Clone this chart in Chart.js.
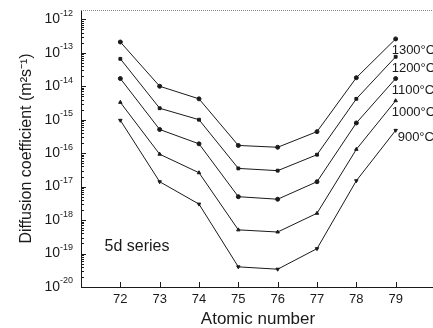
<!DOCTYPE html>
<html>
<head>
<meta charset="utf-8">
<script src="https://cdn.jsdelivr.net/npm/chart.js@4"></script>
<style>
  html, body { margin: 0; padding: 0; background: #fff; overflow: hidden; }
  #wrap { width: 433px; height: 328px; overflow: hidden; }
  canvas { display: block; }
</style>
</head>
<body>
<div id="wrap"><canvas id="chart-diffusion" style="width:440px;height:328px"></canvas></div>
<script>
// Atomic numbers of the 5d series (Hf .. Au)
const atomicNumbers = [72, 73, 74, 75, 76, 77, 78, 79];

// Diffusion coefficients (m^2 s^-1)
const d1300 = [2.1e-13, 1.0e-14, 4.2e-15, 1.7e-16, 1.5e-16, 4.4e-16, 1.8e-14, 2.6e-13];
const d1200 = [6.6e-14, 2.2e-15, 1.0e-15, 3.5e-17, 3.0e-17, 9.0e-17, 4.2e-15, 7.6e-14];
const d1100 = [1.7e-14, 5.1e-16, 1.9e-16, 5.0e-18, 4.2e-18, 1.4e-17, 8.0e-16, 1.7e-14];
const d1000 = [3.3e-15, 9.3e-17, 2.6e-17, 5.1e-19, 4.4e-19, 1.6e-18, 1.3e-16, 3.7e-15];
const d900  = [9.6e-16, 1.4e-17, 3.0e-18, 4.0e-20, 3.4e-20, 1.4e-19, 1.5e-17, 4.8e-16];

const seriesLabels = ['1300°C', '1200°C', '1100°C', '1000°C', '900°C'];
const seriesValues = [d1300, d1200, d1100, d1000, d900];

// Decade exponents used for the y tick labels
const yExponents = [-20, -19, -18, -17, -16, -15, -14, -13, -12];

const FONT = 'Arial, "Liberation Sans", sans-serif';
const INK = '#1a1a1a';

const markerStyles = [
  { pointStyle: 'circle', rotation: 0 },
  { pointStyle: 'rect', rotation: 0 },
  { pointStyle: 'circle', rotation: 0 },
  { pointStyle: 'triangle', rotation: 0 },
  { pointStyle: 'triangle', rotation: 180 }
];

// Inward tick marks, 10^n labels, dotted top frame, series labels, note
const decorPlugin = {
  id: 'decor',
  afterDatasetsDraw(chart) {
    const ctx = chart.ctx;
    const area = chart.chartArea;
    const xs = chart.scales.x;
    const ys = chart.scales.y;
    ctx.save();
    ctx.strokeStyle = INK;
    ctx.lineWidth = 1;

    // y ticks (major + minor), drawn inside the plot
    ys.ticks.forEach(t => {
      const py = Math.round(ys.getPixelForValue(t.value)) + 0.5;
      const len = t.major ? 5 : 3;
      ctx.beginPath();
      ctx.moveTo(area.left, py);
      ctx.lineTo(area.left + len, py);
      ctx.stroke();
    });
    // x ticks, inside
    atomicNumbers.forEach(n => {
      const px = Math.round(xs.getPixelForValue(n)) + 0.5;
      ctx.beginPath();
      ctx.moveTo(px, area.bottom);
      ctx.lineTo(px, area.bottom - 5);
      ctx.stroke();
    });

    // y tick labels as 10 with a raised exponent
    ctx.fillStyle = INK;
    ctx.textBaseline = 'middle';
    ctx.textAlign = 'right';
    yExponents.forEach(e => {
      const py = ys.getPixelForValue(Math.pow(10, e));
      const right = area.left - 8;
      ctx.font = '9px ' + FONT;
      const sup = String(e);
      const w = ctx.measureText(sup).width;
      ctx.fillText(sup, right, py - 6);
      ctx.font = '14px ' + FONT;
      ctx.fillText('10', right - w, py);
    });

    // dotted top frame
    ctx.strokeStyle = '#8a8a8a';
    ctx.setLineDash([1, 1]);
    ctx.beginPath();
    ctx.moveTo(area.left, area.top + 0.5);
    ctx.lineTo(area.right, area.top + 0.5);
    ctx.stroke();
    ctx.setLineDash([]);

    // temperature labels next to the last point of each series
    ctx.font = '13px ' + FONT;
    ctx.textAlign = 'left';
    chart.data.datasets.forEach((ds, i) => {
      const meta = chart.getDatasetMeta(i);
      const pt = meta.data[meta.data.length - 1];
      const dx = i === 4 ? 2 : -4;
      const dy = i === 4 ? 7 : 12;
      ctx.fillText(ds.label, pt.x + dx, pt.y + dy);
    });

    ctx.font = '16px ' + FONT;
    ctx.fillText('5d series', xs.getPixelForValue(71.6), ys.getPixelForValue(1.6e-19));
    ctx.restore();
  }
};

new Chart(document.getElementById('chart-diffusion'), {
  type: 'line',
  data: {
    datasets: seriesValues.map((vals, i) => ({
      label: seriesLabels[i],
      data: atomicNumbers.map((n, k) => ({ x: n, y: vals[k] })),
      borderColor: INK,
      backgroundColor: INK,
      borderWidth: 1,
      pointRadius: 2,
      pointStyle: markerStyles[i].pointStyle,
      rotation: markerStyles[i].rotation,
      tension: 0
    }))
  },
  options: {
    responsive: false,
    animation: false,
    devicePixelRatio: 1,
    layout: { padding: { top: 10, right: 4, left: 0, bottom: 0 } },
    plugins: {
      legend: { display: false },
      tooltip: { enabled: false }
    },
    scales: {
      x: {
        type: 'linear',
        min: 71,
        max: 80,
        afterBuildTicks: scale => {
          scale.ticks = atomicNumbers.map(n => ({ value: n }));
        },
        afterFit: scale => { scale.height = 41; },
        grid: { display: false, drawTicks: false },
        border: { display: true, color: INK, width: 1 },
        ticks: {
          padding: 5,
          color: INK,
          font: { family: FONT, size: 13 },
          callback: v => String(v)
        },
        title: {
          display: true,
          text: 'Atomic number',
          color: INK,
          font: { family: FONT, size: 17, lineHeight: 1 },
          padding: { top: 0, bottom: 0 }
        }
      },
      y: {
        type: 'logarithmic',
        min: 1e-20,
        max: 1.9e-12,
        afterBuildTicks: scale => {
          const ticks = [];
          yExponents.forEach(e => {
            ticks.push({ value: Math.pow(10, e), major: true });
            for (let m = 2; m <= 9; m++) {
              const v = m * Math.pow(10, e);
              if (v <= scale.max) ticks.push({ value: v, major: false });
            }
          });
          scale.ticks = ticks;
        },
        afterFit: scale => { scale.width = 81; },
        grid: { display: false, drawTicks: false },
        border: { display: true, color: INK, width: 1 },
        ticks: { display: false, autoSkip: false },
        title: {
          display: true,
          text: 'Diffusion coefficient (m²s⁻¹)',
          color: INK,
          font: { family: FONT, size: 16, lineHeight: 1 },
          padding: { top: 19, bottom: 0 }
        }
      }
    }
  },
  plugins: [decorPlugin]
});
</script>
</body>
</html>
